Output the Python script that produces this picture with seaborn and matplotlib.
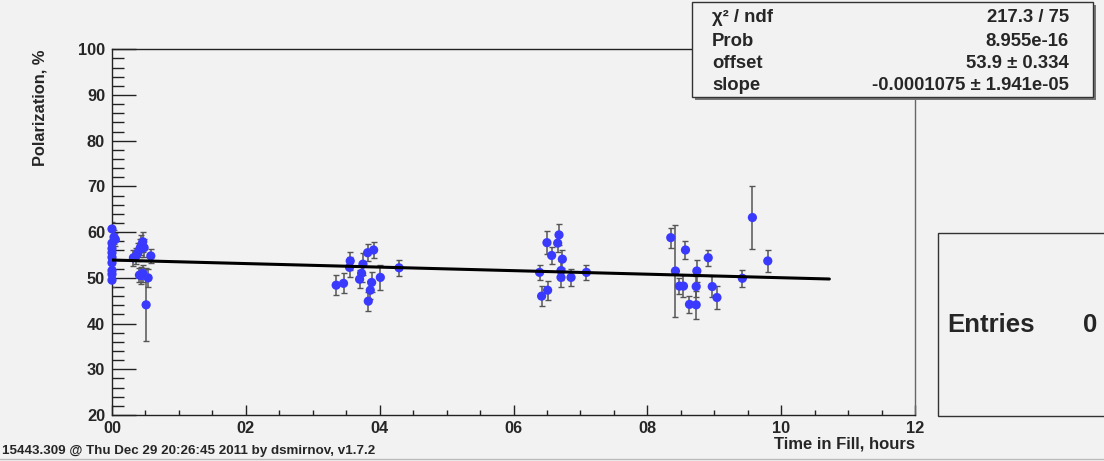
import matplotlib
matplotlib.use("Agg")
import matplotlib.pyplot as plt
from matplotlib.patches import Rectangle
from matplotlib.lines import Line2D
import numpy as np
import pandas as pd
import seaborn as sns

# ---------------- data ----------------
time_h = [0.00, 0.03, 0.05, 0.00, 0.00, 0.00, 0.00, 0.00, 0.00, 0.00, 0.00,
          0.32, 0.36, 0.39, 0.42, 0.44, 0.46, 0.48, 0.58, 0.41, 0.44, 0.46, 0.54, 0.51,
          3.35, 3.46, 3.56, 3.55, 3.75, 3.82, 3.91, 3.73, 3.70, 3.88, 3.86, 3.83, 4.01, 4.29,
          6.39, 6.42, 6.51, 6.50, 6.57, 6.68, 6.66, 6.73, 6.71, 6.71, 6.86, 7.09,
          8.35, 8.42, 8.48, 8.54, 8.57, 8.63, 8.73, 8.73, 8.74, 8.91, 8.97, 9.04, 9.42, 9.57, 9.80]
polarization = [60.7, 58.9, 58.4, 57.6, 56.4, 55.5, 54.5, 53.3, 51.6, 50.8, 49.5,
                54.4, 54.8, 55.6, 56.5, 57.2, 57.9, 56.6, 54.8, 50.6, 50.5, 51.0, 50.0, 44.1,
                48.4, 48.8, 53.7, 52.3, 53.0, 55.5, 56.1, 51.0, 49.7, 49.0, 47.3, 44.9, 50.1, 52.2,
                51.2, 46.0, 47.3, 57.7, 54.9, 59.4, 57.6, 54.1, 51.6, 50.1, 50.1, 51.2,
                58.8, 51.5, 48.2, 48.2, 56.1, 44.2, 44.1, 48.1, 51.5, 54.4, 48.1, 45.7, 49.9, 63.2, 53.7]
pol_err = [1.5, 1.5, 1.5, 1.5, 1.5, 1.5, 1.5, 1.5, 1.5, 1.5, 1.5,
           1.8, 1.8, 2.0, 2.0, 2.2, 2.2, 2.0, 1.5, 1.6, 1.8, 1.8, 2.0, 8.0,
           2.2, 2.2, 2.0, 2.2, 2.4, 1.8, 1.8, 2.0, 2.0, 2.2, 2.0, 2.1, 2.7, 1.8,
           1.7, 2.2, 2.1, 2.5, 1.8, 2.3, 2.0, 2.0, 2.0, 2.0, 1.9, 1.7,
           2.2, 10.1, 1.7, 2.4, 2.0, 1.8, 3.0, 2.2, 2.4, 1.8, 2.3, 2.5, 1.8, 6.95, 2.5]

fit_offset = 53.9
fit_slope_per_s = -0.0001075
fit_range_h = [0.0, 10.72]

x_ticks = [0, 2, 4, 6, 8, 10, 12]
x_tick_labels = ["00", "02", "04", "06", "08", "10", "12"]
y_ticks = [20, 30, 40, 50, 60, 70, 80, 90, 100]

stat_names = ["χ² / ndf", "Prob", "offset", "slope"]
stat_values = ["217.3 / 75", "8.955e-16", "53.9 ± 0.334", "-0.0001075 ± 1.941e-05"]

footer = "15443.309 @ Thu Dec 29 20:26:45 2011 by dsmirnov, v1.7.2"

# ---------------- style ----------------
sns.set_theme(style="ticks")
plt.rcParams["font.family"] = ["Liberation Sans", "DejaVu Sans"]
plt.rcParams["font.weight"] = "bold"
BG = "#f2f2f2"

W, H = 1104, 461
fig = plt.figure(figsize=(W / 100, H / 100), dpi=100, facecolor=BG)
ax = fig.add_axes([112 / W, 1 - 415 / H, (915 - 112) / W, (415 - 49.3) / H])
ax.set_facecolor(BG)

df = pd.DataFrame({"t": time_h, "p": polarization, "e": pol_err})

ax.errorbar(df["t"], df["p"], yerr=df["e"], fmt="none", ecolor="#555555",
            elinewidth=1.1, capsize=2.2, capthick=1.0, zorder=2)
sns.scatterplot(data=df, x="t", y="p", ax=ax, color="#3a3aff", s=44,
                edgecolor="none", zorder=3, legend=False, clip_on=False)

tfit = np.linspace(fit_range_h[0], fit_range_h[1], 50)
pfit = fit_offset + fit_slope_per_s * tfit * 3600.0
sns.lineplot(x=tfit, y=pfit, ax=ax, color="black", linewidth=2.2, zorder=4)

ax.set_xlim(0, 12)
ax.set_ylim(20, 100)
ax.set_xticks(x_ticks)
ax.set_xticklabels(x_tick_labels)
ax.set_xticks(np.arange(0, 12.01, 0.5), minor=True)
ax.set_yticks(y_ticks)
ax.set_yticks(np.arange(20, 100.01, 2), minor=True)
ax.tick_params(axis="x", which="major", direction="in", length=7.5, width=1,
               color="#222222", labelsize=11.8, pad=4)
ax.tick_params(axis="x", which="minor", direction="in", length=3.5, width=1, color="#222222")
ax.tick_params(axis="y", which="major", direction="in", length=17, width=1,
               color="#222222", labelsize=11.8, pad=5)
ax.tick_params(axis="y", which="minor", direction="in", length=8.5, width=1, color="#222222")
for lab in ax.get_xticklabels() + ax.get_yticklabels():
    lab.set_fontweight("bold")
for s in ax.spines.values():
    s.set_color("#222222")
    s.set_linewidth(1.0)
ax.spines["right"].set_color("#666666")

ax.set_xlabel("")
ax.set_ylabel("")
fig.text(915 / W, 1 - 444 / H, "Time in Fill, hours", ha="right", va="center",
         fontsize=12, fontweight="bold")
fig.text(40 / W, 1 - 50 / H, "Polarization, %", ha="center", va="top",
         rotation=90, fontsize=11.8, fontweight="bold")
fig.text(2 / W, 1 - 451 / H, footer, ha="left", va="center", fontsize=9.6,
         fontweight="bold")
fig.add_artist(Line2D([0, 1], [1 - 459 / H, 1 - 459 / H], transform=fig.transFigure,
                      color="#bbbbbb", linewidth=1.0))

# stats box
bx0, bx1, by0, by1 = 692, 1093, 2, 97
fig.add_artist(Rectangle(((bx0 + 3) / W, 1 - (by1 + 3) / H), (bx1 - bx0) / W,
                         (by1 - by0) / H, transform=fig.transFigure,
                         facecolor="#777777", edgecolor="none", zorder=5))
fig.add_artist(Rectangle((bx0 / W, 1 - by1 / H), (bx1 - bx0) / W, (by1 - by0) / H,
                         transform=fig.transFigure, facecolor=BG,
                         edgecolor="#333333", linewidth=1.0, zorder=6))
row_y = [17, 41, 64, 85]
for name, val, yy in zip(stat_names, stat_values, row_y):
    fig.text(712 / W, 1 - yy / H, name, ha="left", va="center", fontsize=13.3,
             fontweight="bold", zorder=7)
    fig.text(1069 / W, 1 - yy / H, val, ha="right", va="center", fontsize=13.3,
             fontweight="bold", zorder=7)

# entries box
fig.add_artist(Rectangle((937.7 / W, 1 - 415.7 / H), (1110 - 937.7) / W,
                         (415.7 - 233) / H, transform=fig.transFigure,
                         facecolor=BG, edgecolor="#333333", linewidth=1.0))
fig.text(947 / W, 1 - 325 / H, "Entries", ha="left", va="center", fontsize=18.5,
         fontweight="bold")
fig.text(1097 / W, 1 - 325 / H, "0", ha="right", va="center", fontsize=18.5,
         fontweight="bold")

fig.savefig("out.png", dpi=100, facecolor=BG)
